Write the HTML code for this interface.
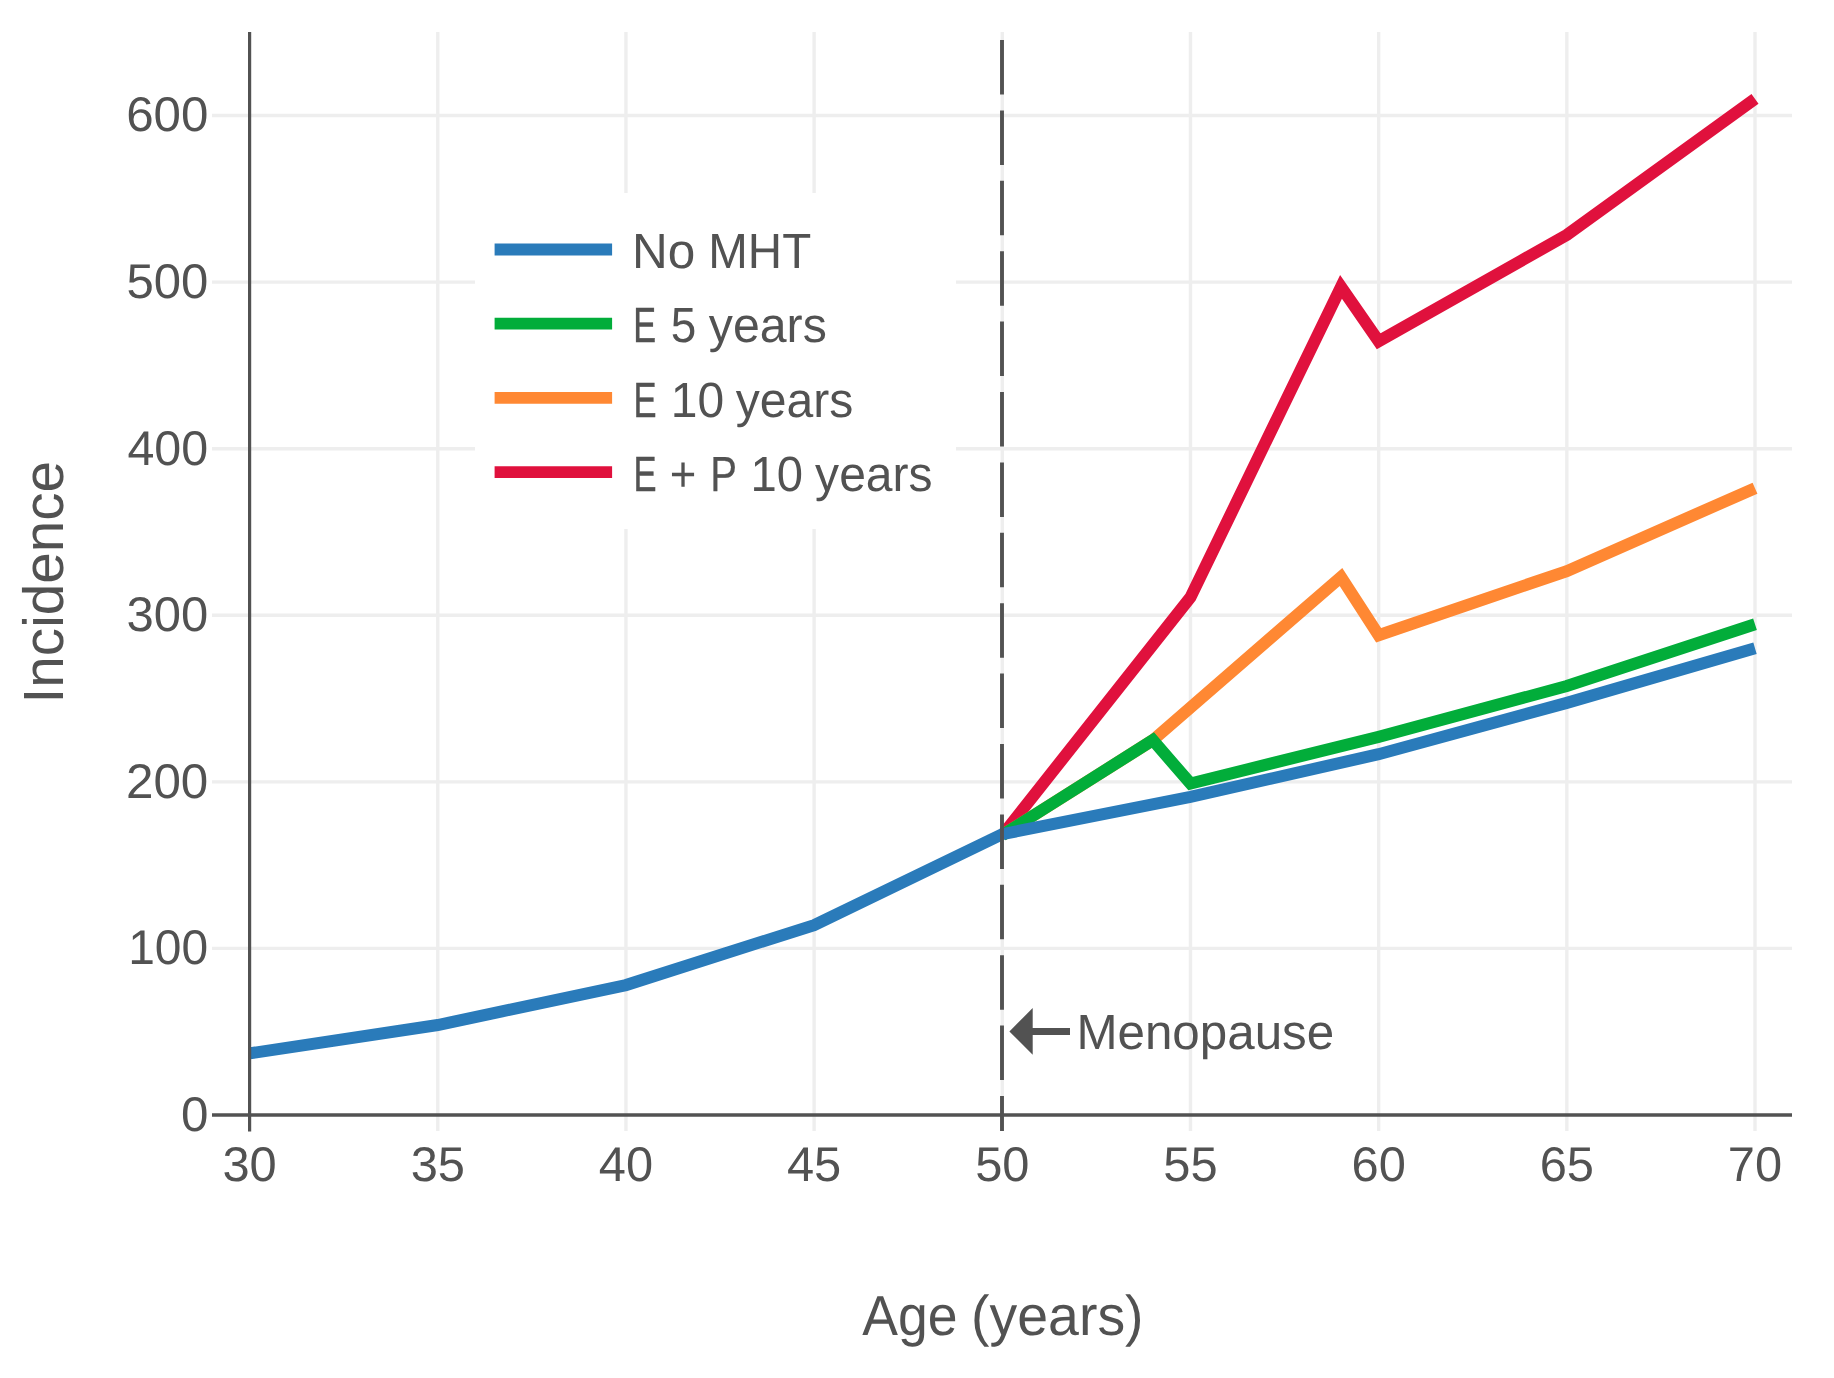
<!DOCTYPE html><html><head><meta charset="utf-8"><style>html,body{margin:0;padding:0;background:#fff;width:1834px;height:1378px;overflow:hidden}svg{display:block;font-family:"Liberation Sans",sans-serif;text-rendering:geometricPrecision;will-change:transform}</style></head><body>
<svg width="1834" height="1378" viewBox="0 0 1834 1378">
<rect x="0" y="0" width="1834" height="1378" fill="#fff"/>
<g stroke="#eeeeee" stroke-width="3.4" fill="none">
<line x1="437.77" y1="32" x2="437.77" y2="1131"/>
<line x1="625.95" y1="32" x2="625.95" y2="1131"/>
<line x1="814.12" y1="32" x2="814.12" y2="1131"/>
<line x1="1002.30" y1="32" x2="1002.30" y2="1131"/>
<line x1="1190.47" y1="32" x2="1190.47" y2="1131"/>
<line x1="1378.65" y1="32" x2="1378.65" y2="1131"/>
<line x1="1566.82" y1="32" x2="1566.82" y2="1131"/>
<line x1="1755.00" y1="32" x2="1755.00" y2="1131"/>
<line x1="212" y1="948.42" x2="1792" y2="948.42"/>
<line x1="212" y1="781.84" x2="1792" y2="781.84"/>
<line x1="212" y1="615.26" x2="1792" y2="615.26"/>
<line x1="212" y1="448.68" x2="1792" y2="448.68"/>
<line x1="212" y1="282.10" x2="1792" y2="282.10"/>
<line x1="212" y1="115.52" x2="1792" y2="115.52"/>
</g>
<rect x="475" y="193" width="481" height="336" fill="#fff"/>
<polyline points="1002.30,835.15 1190.47,597.27 1341.01,286.76 1378.65,341.24 1566.82,234.96 1755.00,98.86" fill="none" stroke="#e0113d" stroke-width="12" stroke-linejoin="miter" stroke-miterlimit="10"/>
<polyline points="1002.30,835.15 1152.84,740.19 1341.01,576.95 1378.65,635.25 1566.82,571.12 1755.00,488.16" fill="none" stroke="#ff8833" stroke-width="12" stroke-linejoin="miter" stroke-miterlimit="10"/>
<polyline points="1002.30,835.15 1152.84,740.19 1190.47,783.51 1378.65,736.86 1566.82,686.06 1755.00,624.26" fill="none" stroke="#02ad3a" stroke-width="12" stroke-linejoin="miter" stroke-miterlimit="10"/>
<polyline points="249.60,1053.37 437.77,1025.05 625.95,985.07 814.12,925.10 1002.30,834.15 1190.47,796.83 1378.65,754.19 1566.82,702.88 1755.00,648.24" fill="none" stroke="#2a7bba" stroke-width="12" stroke-linejoin="miter" stroke-miterlimit="10"/>
<line x1="212" y1="1115" x2="1792" y2="1115" stroke="#525252" stroke-width="3.6"/>
<line x1="249.6" y1="32" x2="249.6" y2="1131.5" stroke="#525252" stroke-width="3.2"/>
<line x1="1002" y1="32" x2="1002" y2="1131" stroke="#525252" stroke-width="3.9" stroke-dasharray="54.5 15.9" stroke-dashoffset="62.4"/>
<path d="M1009.4,1031.4 L1032.7,1008.1 L1032.7,1027.9 L1070.0,1027.9 L1070.0,1034.9 L1032.7,1034.9 L1032.7,1054.7 Z" fill="#525252"/>
<g fill="#525252">
<text id="xt30" x="249.60" y="1181.30" font-size="48.80" text-anchor="middle">30</text>
<text id="xt35" x="437.77" y="1181.30" font-size="48.80" text-anchor="middle">35</text>
<text id="xt40" x="625.95" y="1181.30" font-size="48.80" text-anchor="middle">40</text>
<text id="xt45" x="814.12" y="1181.30" font-size="48.80" text-anchor="middle">45</text>
<text id="xt50" x="1002.30" y="1181.30" font-size="48.80" text-anchor="middle">50</text>
<text id="xt55" x="1190.47" y="1181.30" font-size="48.80" text-anchor="middle">55</text>
<text id="xt60" x="1378.65" y="1181.30" font-size="48.80" text-anchor="middle">60</text>
<text id="xt65" x="1566.82" y="1181.30" font-size="48.80" text-anchor="middle">65</text>
<text id="xt70" x="1755.00" y="1181.30" font-size="48.80" text-anchor="middle">70</text>
<text id="yt0" x="208.40" y="1130.90" font-size="48.80" text-anchor="end" textLength="27.45" lengthAdjust="spacingAndGlyphs">0</text>
<text id="yt100" x="208.22" y="964.32" font-size="48.80" text-anchor="end" textLength="80.03" lengthAdjust="spacingAndGlyphs">100</text>
<text id="yt200" x="208.33" y="797.74" font-size="48.80" text-anchor="end" textLength="82.36" lengthAdjust="spacingAndGlyphs">200</text>
<text id="yt300" x="208.17" y="631.16" font-size="48.80" text-anchor="end" textLength="81.76" lengthAdjust="spacingAndGlyphs">300</text>
<text id="yt400" x="208.21" y="464.58" font-size="48.80" text-anchor="end" textLength="80.82" lengthAdjust="spacingAndGlyphs">400</text>
<text id="yt500" x="208.33" y="298.00" font-size="48.80" text-anchor="end" textLength="81.87" lengthAdjust="spacingAndGlyphs">500</text>
<text id="yt600" x="208.45" y="131.42" font-size="48.80" text-anchor="end" textLength="82.24" lengthAdjust="spacingAndGlyphs">600</text>
<line x1="494.6" y1="249.5" x2="612.1" y2="249.5" stroke="#2a7bba" stroke-width="11.8"/>
<text id="leg0w0" x="631.96" y="268.10" font-size="49.30" text-anchor="start" textLength="63.27" lengthAdjust="spacingAndGlyphs">No</text>
<text id="leg0w1" x="708.28" y="268.10" font-size="49.30" text-anchor="start" textLength="102.94" lengthAdjust="spacingAndGlyphs">MHT</text>
<line x1="494.6" y1="323.7" x2="612.1" y2="323.7" stroke="#02ad3a" stroke-width="11.8"/>
<text id="leg1w0" x="633.35" y="342.30" font-size="49.30" text-anchor="start" textLength="22.85" lengthAdjust="spacingAndGlyphs" stroke="#525252" stroke-width="0.45">E</text>
<text id="leg1w1" x="670.71" y="342.30" font-size="49.30" text-anchor="start" textLength="25.53" lengthAdjust="spacingAndGlyphs">5</text>
<text id="leg1w2" x="708.82" y="342.30" font-size="49.30" text-anchor="start" textLength="117.94" lengthAdjust="spacingAndGlyphs">years</text>
<line x1="494.6" y1="397.9" x2="612.1" y2="397.9" stroke="#ff8833" stroke-width="11.8"/>
<text id="leg2w0" x="633.38" y="416.50" font-size="49.30" text-anchor="start" textLength="23.06" lengthAdjust="spacingAndGlyphs" stroke="#525252" stroke-width="0.45">E</text>
<text id="leg2w1" x="670.78" y="416.50" font-size="49.30" text-anchor="start" textLength="53.39" lengthAdjust="spacingAndGlyphs">10</text>
<text id="leg2w2" x="735.64" y="416.50" font-size="49.30" text-anchor="start" textLength="117.64" lengthAdjust="spacingAndGlyphs">years</text>
<line x1="494.6" y1="472.1" x2="612.1" y2="472.1" stroke="#e0113d" stroke-width="11.8"/>
<text id="leg3w0" x="633.38" y="490.70" font-size="49.30" text-anchor="start" textLength="23.06" lengthAdjust="spacingAndGlyphs" stroke="#525252" stroke-width="0.45">E</text>
<text id="leg3w1" x="669.84" y="490.70" font-size="49.30" text-anchor="start" textLength="26.57" lengthAdjust="spacingAndGlyphs">+</text>
<text id="leg3w2" x="710.27" y="490.70" font-size="49.30" text-anchor="start" textLength="26.71" lengthAdjust="spacingAndGlyphs" stroke="#525252" stroke-width="0.25">P</text>
<text id="leg3w3" x="750.47" y="490.70" font-size="49.30" text-anchor="start" textLength="52.54" lengthAdjust="spacingAndGlyphs">10</text>
<text id="leg3w4" x="815.10" y="490.70" font-size="49.30" text-anchor="start" textLength="117.54" lengthAdjust="spacingAndGlyphs">years</text>
<text id="meno" x="1076.38" y="1048.90" font-size="49.40" text-anchor="start" textLength="257.83" lengthAdjust="spacingAndGlyphs">Menopause</text>
<text id="xtw0" x="862.35" y="1334.90" font-size="56.30" text-anchor="start" textLength="95.31" lengthAdjust="spacingAndGlyphs">Age</text>
<text id="xtw1" x="971.08" y="1334.90" font-size="56.30" text-anchor="start" textLength="172.52" lengthAdjust="spacingAndGlyphs">(years)</text>
<text id="ytitle" transform="translate(63.00,582.19) rotate(-90)" x="0" y="0" font-size="56.70" text-anchor="middle" textLength="242.41" lengthAdjust="spacingAndGlyphs">Incidence</text>
</g>
</svg></body></html>
